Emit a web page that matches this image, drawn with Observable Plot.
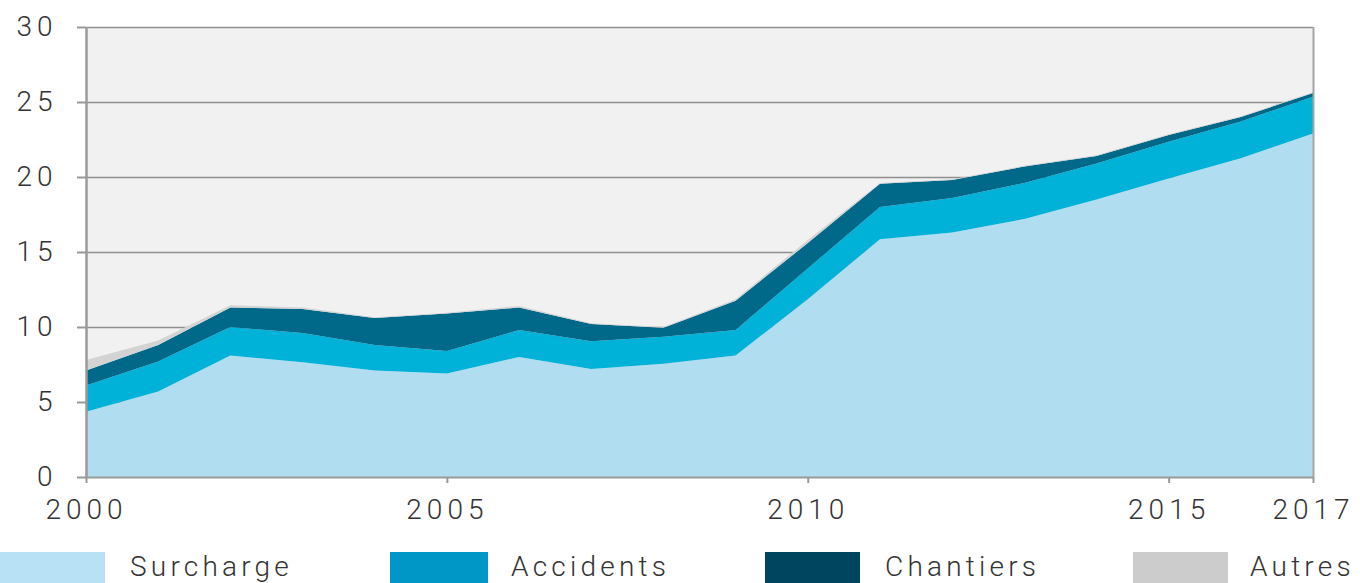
<!DOCTYPE html>
<html>
<head>
<meta charset="utf-8">
<script src="https://cdn.jsdelivr.net/npm/d3@7"></script>
<script src="https://cdn.jsdelivr.net/npm/@observablehq/plot@0.6"></script>
<style>
  html, body { margin: 0; padding: 0; background: #fff; overflow: hidden; }
  #wrap { position: relative; width: 1360px; height: 583px; }
  #legend { position: absolute; left: 0; top: 552px; width: 1360px; height: 40px; }
  .sw { position: absolute; top: 0; height: 40px; }
  .lb { position: absolute; top: -3px; font-family: Roboto, sans-serif; font-weight: 300; font-size: 28px; letter-spacing: 4.2px; color: #333; line-height: 36px; white-space: nowrap; }
</style>
</head>
<body>
<div id="wrap"><div id="chart"></div><div id="legend"></div></div>
<script>
const years = [2000,2001,2002,2003,2004,2005,2006,2007,2008,2009,2010,2011,2012,2013,2014,2015,2016,2017];
const series = ["Surcharge","Accidents","Chantiers","Autres"];
const surcharge = [4.35,5.7,8.1,7.65,7.1,6.9,8.0,7.2,7.55,8.1,11.85,15.85,16.3,17.2,18.5,19.9,21.25,22.9];
const accidents = [1.75,2.0,1.9,1.95,1.7,1.5,1.8,1.85,1.8,1.7,2.05,2.15,2.3,2.4,2.4,2.45,2.45,2.45];
const chantiers = [1.0,1.1,1.3,1.6,1.8,2.5,1.5,1.15,0.6,1.95,1.7,1.55,1.2,1.1,0.5,0.45,0.3,0.25];
const autres = [0.7,0.3,0.15,0.1,0.05,0.05,0.1,0.05,0.05,0.1,0.2,0.05,0.05,0.05,0.05,0.05,0.05,0.05];
const xTicks = [2000,2005,2010,2015,2017];
const yTicks = [0,5,10,15,20,25,30];
const areaColors = ["#b1ddf1","#00b1d8","#006889","#d3d3d3"];
const legendColors = ["#b9e1f5","#0097c7","#004560","#cccccc"];

const valuesBySeries = [surcharge, accidents, chantiers, autres];
const data = [];
series.forEach((s, i) => years.forEach((y, j) => data.push({year: y, series: s, value: valuesBySeries[i][j]})));

const chart = Plot.plot({
  width: 1360,
  height: 545,
  marginTop: 27,
  marginLeft: 86,
  marginRight: 47,
  marginBottom: 68,
  x: {domain: [2000, 2017]},
  y: {domain: [0, 30]},
  color: {domain: series, range: areaColors},
  style: {fontFamily: "Roboto, sans-serif", fontWeight: 300, fontSize: "28px", letterSpacing: "5px", color: "#333", background: "#fff", overflow: "visible"},
  marks: [
    Plot.frame({fill: "#f1f1f1", stroke: null}),
    Plot.gridY(yTicks.filter(d => d > 0), {stroke: "#8f8f8f", strokeOpacity: 1, strokeWidth: 1.6}),
    Plot.areaY(data, {x: "year", y: "value", fill: "series", order: series}),
    Plot.ruleY([0], {stroke: "#9a9a9a", strokeWidth: 2}),
    Plot.ruleX([2000], {stroke: "#9a9a9a", strokeWidth: 2.5}),
    Plot.ruleX([2017], {stroke: "#a5a5a5", strokeWidth: 2}),
    Plot.axisY(yTicks, {tickSize: 9, tickPadding: 20, stroke: "#999", strokeWidth: 2, fill: "#333", label: null}),
    Plot.axisX(xTicks, {tickSize: 6, tickPadding: 16, stroke: "#999", strokeWidth: 2, fill: "#333", label: null, tickFormat: d => String(d)})
  ]
});
document.getElementById("chart").appendChild(chart);

const legendPos = [[0, 105, 130], [390, 98, 511], [765, 95, 885], [1133, 95, 1250]];
const legend = document.getElementById("legend");
series.forEach((s, i) => {
  const [x, w, tx] = legendPos[i];
  const sw = document.createElement("div");
  sw.className = "sw";
  sw.style.left = x + "px";
  sw.style.width = w + "px";
  sw.style.background = legendColors[i];
  legend.appendChild(sw);
  const lb = document.createElement("div");
  lb.className = "lb";
  lb.style.left = tx + "px";
  lb.textContent = s;
  legend.appendChild(lb);
});
</script>
</body>
</html>
